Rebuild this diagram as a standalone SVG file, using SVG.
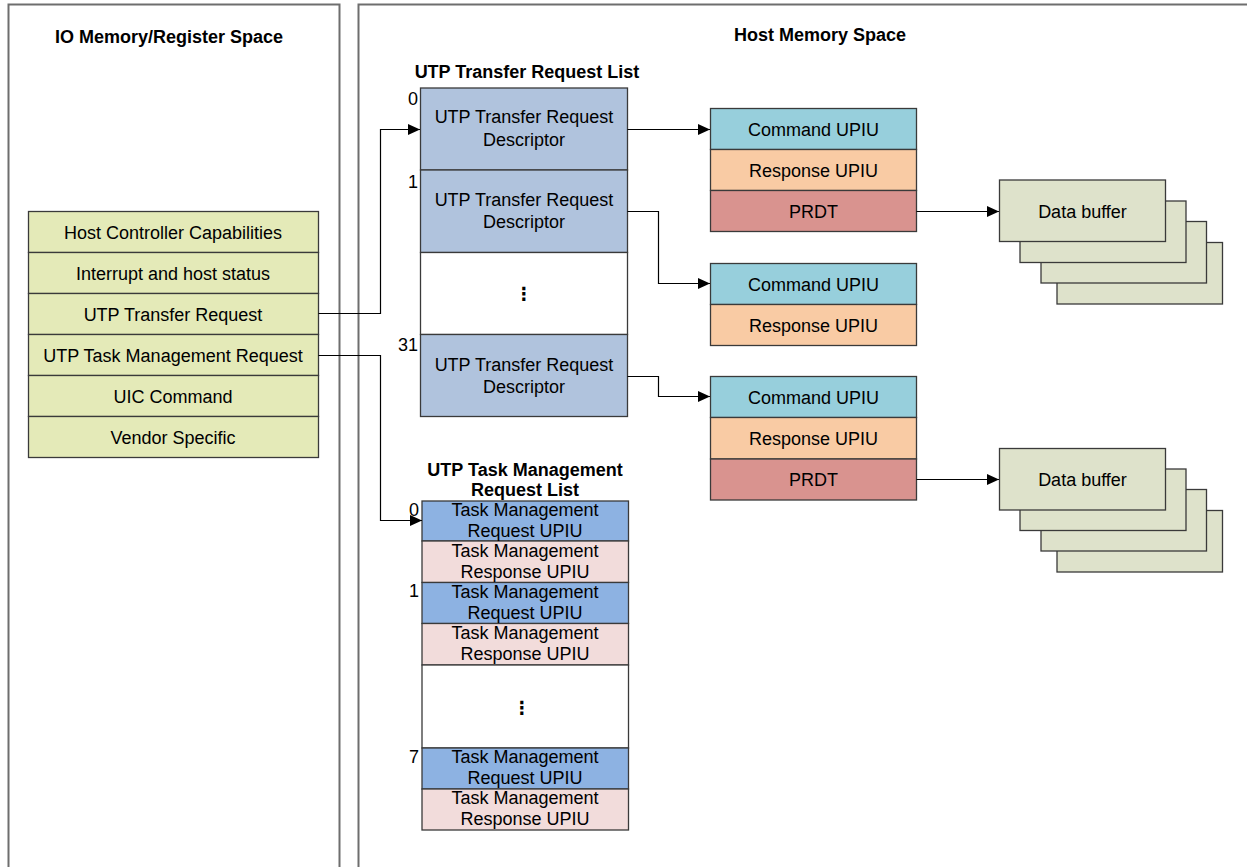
<svg xmlns="http://www.w3.org/2000/svg" width="1247" height="867" viewBox="0 0 1247 867">
<style>
text{font-family:"Liberation Sans",Arial,"DejaVu Sans",sans-serif;font-size:18px;fill:#000}
.c{text-anchor:middle}
.e{text-anchor:end}
.b{font-weight:bold}
.box{stroke:#3a3a3a;stroke-width:1.3}
.reg{fill:#e4eab8}
.desc{fill:#b0c3dd}
.cmd{fill:#97cfdc}
.rsp{fill:#f9cba4}
.prdt{fill:#d9938f}
.tmq{fill:#8db2e2}
.tms{fill:#f2dcdb}
.buf{fill:#dee2cb}
.wh{fill:#fff}
.panel{fill:none;stroke:#6e6e6e;stroke-width:2}
.conn{fill:none;stroke:#000;stroke-width:1.2}
.dots{fill:#000;font-weight:bold}
</style>
<defs>
<marker id="arr" viewBox="0 0 12 11" refX="12" refY="5.5" markerWidth="12" markerHeight="11" markerUnits="userSpaceOnUse" orient="auto">
<path d="M0,0 L12,5.5 L0,11 z" fill="#000"/>
</marker>
</defs>
<rect width="1247" height="867" fill="#fff"/>
<g id="panels">
<path class="panel" d="M8.5,870 V4.5 H339.5 V870"/>
<path class="panel" d="M358.5,870 V4.5 H1250"/>
<text class="c b" x="169" y="43">IO Memory/Register Space</text>
<text class="c b" x="820" y="41">Host Memory Space</text>
</g>
<g id="registers">
<rect class="box reg" x="28.5" y="211.5" width="290" height="41"/>
<rect class="box reg" x="28.5" y="252.5" width="290" height="41"/>
<rect class="box reg" x="28.5" y="293.5" width="290" height="41"/>
<rect class="box reg" x="28.5" y="334.5" width="290" height="41"/>
<rect class="box reg" x="28.5" y="375.5" width="290" height="41"/>
<rect class="box reg" x="28.5" y="416.5" width="290" height="41"/>
<text class="c" x="173" y="238.5">Host Controller Capabilities</text>
<text class="c" x="173" y="279.5">Interrupt and host status</text>
<text class="c" x="173" y="320.5">UTP Transfer Request</text>
<text class="c" x="173" y="361.5">UTP Task Management Request</text>
<text class="c" x="173" y="402.5">UIC Command</text>
<text class="c" x="173" y="443.5">Vendor Specific</text>
</g>
<g id="transfer-list">
<text class="c b" x="527" y="78">UTP Transfer Request List</text>
<rect class="box desc" x="420.5" y="88" width="207" height="82"/>
<rect class="box desc" x="420.5" y="170" width="207" height="82.5"/>
<rect class="box wh" x="420.5" y="252.5" width="207" height="82"/>
<rect class="box desc" x="420.5" y="334.5" width="207" height="82"/>
<text class="e" x="418" y="105">0</text>
<text class="e" x="418" y="188">1</text>
<text class="e" x="418" y="350.5">31</text>
<text class="c" x="524" y="123">UTP Transfer Request</text>
<text class="c" x="524" y="145.5">Descriptor</text>
<text class="c" x="524" y="205.5">UTP Transfer Request</text>
<text class="c" x="524" y="228">Descriptor</text>
<text class="c dots" x="524" y="300">⋮</text>
<text class="c" x="524" y="371">UTP Transfer Request</text>
<text class="c" x="524" y="393">Descriptor</text>
</g>
<g id="tm-list">
<text class="c b" x="525" y="476">UTP Task Management</text>
<text class="c b" x="525" y="496">Request List</text>
<rect class="box tmq" x="422" y="501" width="206.5" height="40"/>
<rect class="box tms" x="422" y="541" width="206.5" height="41.5"/>
<rect class="box tmq" x="422" y="582.5" width="206.5" height="41"/>
<rect class="box tms" x="422" y="623.5" width="206.5" height="41.5"/>
<rect class="box wh" x="422" y="665" width="206.5" height="83"/>
<rect class="box tmq" x="422" y="748" width="206.5" height="41"/>
<rect class="box tms" x="422" y="789" width="206.5" height="41"/>
<text class="e" x="419" y="515.5">0</text>
<text class="e" x="419" y="597">1</text>
<text class="e" x="419" y="762.5">7</text>
<text class="c" x="525" y="516">Task Management</text>
<text class="c" x="525" y="537">Request UPIU</text>
<text class="c" x="525" y="557">Task Management</text>
<text class="c" x="525" y="578">Response UPIU</text>
<text class="c" x="525" y="598">Task Management</text>
<text class="c" x="525" y="619">Request UPIU</text>
<text class="c" x="525" y="639">Task Management</text>
<text class="c" x="525" y="660">Response UPIU</text>
<text class="c dots" x="522" y="714">⋮</text>
<text class="c" x="525" y="763">Task Management</text>
<text class="c" x="525" y="784">Request UPIU</text>
<text class="c" x="525" y="804">Task Management</text>
<text class="c" x="525" y="825">Response UPIU</text>
</g>
<g id="upiu-0">
<rect class="box cmd" x="710.5" y="108.5" width="206" height="41"/>
<rect class="box rsp" x="710.5" y="149.5" width="206" height="41"/>
<rect class="box prdt" x="710.5" y="190.5" width="206" height="41"/>
<text class="c" x="813.5" y="135.5">Command UPIU</text>
<text class="c" x="813.5" y="176.5">Response UPIU</text>
<text class="c" x="813.5" y="217.5">PRDT</text>
</g>
<g id="upiu-1">
<rect class="box cmd" x="710.5" y="263.5" width="206" height="41"/>
<rect class="box rsp" x="710.5" y="304.5" width="206" height="41"/>
<text class="c" x="813.5" y="290.5">Command UPIU</text>
<text class="c" x="813.5" y="331.5">Response UPIU</text>
</g>
<g id="upiu-31">
<rect class="box cmd" x="710.5" y="376.5" width="206" height="41"/>
<rect class="box rsp" x="710.5" y="417.5" width="206" height="41.5"/>
<rect class="box prdt" x="710.5" y="459" width="206" height="41"/>
<text class="c" x="813.5" y="403.5">Command UPIU</text>
<text class="c" x="813.5" y="444.5">Response UPIU</text>
<text class="c" x="813.5" y="486">PRDT</text>
</g>
<g id="buffer-0">
<rect class="box buf" x="1057" y="242.5" width="165.5" height="61.5"/>
<rect class="box buf" x="1041" y="221.5" width="165.5" height="61.5"/>
<rect class="box buf" x="1020" y="201" width="166" height="61.5"/>
<rect class="box buf" x="999.5" y="180" width="166" height="61.5"/>
<text class="c" x="1082.5" y="218">Data buffer</text>
</g>
<g id="buffer-1">
<rect class="box buf" x="1057" y="510.5" width="165.5" height="61.5"/>
<rect class="box buf" x="1041" y="489.5" width="165.5" height="61.5"/>
<rect class="box buf" x="1020" y="469" width="166" height="61.5"/>
<rect class="box buf" x="999.5" y="448.5" width="166" height="61.5"/>
<text class="c" x="1082.5" y="486">Data buffer</text>
</g>
<g id="connectors">
<path class="conn" d="M318.5,313.5 H380.5 V129.5 H420" marker-end="url(#arr)"/>
<path class="conn" d="M318.5,355.5 H380.5 V520.5 H422" marker-end="url(#arr)"/>
<path class="conn" d="M627.5,129.5 H710" marker-end="url(#arr)"/>
<path class="conn" d="M627.5,211.5 H658.5 V283.5 H710" marker-end="url(#arr)"/>
<path class="conn" d="M627.5,376.5 H658.5 V396.5 H710" marker-end="url(#arr)"/>
<path class="conn" d="M916.5,211.5 H999" marker-end="url(#arr)"/>
<path class="conn" d="M916.5,479.5 H999" marker-end="url(#arr)"/>
</g>
</svg>
